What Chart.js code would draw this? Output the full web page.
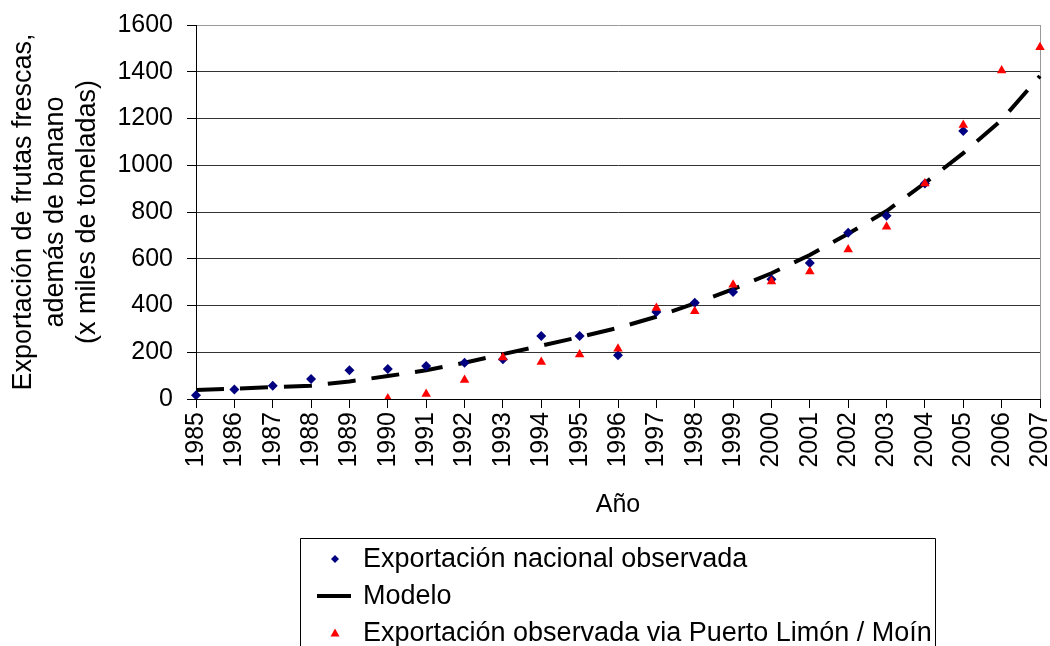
<!DOCTYPE html>
<html><head><meta charset="utf-8">
<script src="https://cdn.jsdelivr.net/npm/chart.js@4.4.1/dist/chart.umd.min.js"></script>
<style>html,body{margin:0;padding:0;background:#fff;overflow:hidden}canvas{display:block}</style>
</head><body>
<canvas id="c" width="1050" height="646"></canvas>
<script>
const years = ['1985','1986','1987','1988','1989','1990','1991','1992','1993','1994','1995','1996','1997','1998','1999','2000','2001','2002','2003','2004','2005','2006','2007'];
const nacional = [16,41,57,86,123,128,141,155,170,270,270,187,372,412,458,512,582,711,784,922,1147,null,null];
const modelo = [38,44,51,57,75,98,123,155,192,228,265,304,352,409,470,538,616,707,804,924,1052,1194,1382];
const limon = [null,null,null,null,null,2,21,81,178,158,190,215,389,375,489,503,545,640,737,922,1172,1405,1505];
const seriesNames = ['Exportación nacional observada','Modelo','Exportación observada via Puerto Limón / Moín'];
const yTitle = ['Exportación de frutas frescas,','además de banano','(x miles de toneladas)'];
const xTitle = 'Año';

const FONT = '"Liberation Sans", Arial, sans-serif';

const boxLegend = {
  id: 'boxLegend',
  afterDraw(chart) {
    const ctx = chart.ctx;
    const L = 300.5, T = 538.5, R = 935.5, B = chart.height + 2;
    ctx.save();
    ctx.strokeStyle = '#000'; ctx.lineWidth = 1;
    ctx.beginPath(); ctx.moveTo(L, B); ctx.lineTo(L, T); ctx.lineTo(R, T); ctx.lineTo(R, B); ctx.stroke();
    ctx.font = '27px ' + FONT; ctx.textBaseline = 'middle'; ctx.textAlign = 'left'; ctx.fillStyle = '#000';
    chart.data.datasets.forEach((ds, i) => {
      const y = 559 + i * 37;
      const mx = 335;
      if (ds.showLine === false) {
        ctx.fillStyle = ds.backgroundColor;
        ctx.beginPath();
        if (ds.pointStyle === 'rectRot') {
          const r = 4;
          ctx.moveTo(mx, y - r); ctx.lineTo(mx + r, y); ctx.lineTo(mx, y + r); ctx.lineTo(mx - r, y);
        } else {
          const r = 4.5;
          ctx.moveTo(mx, y - r); ctx.lineTo(mx + r, y + r * 0.8); ctx.lineTo(mx - r, y + r * 0.8);
        }
        ctx.closePath(); ctx.fill();
      } else {
        ctx.strokeStyle = ds.borderColor; ctx.lineWidth = 4;
        ctx.beginPath(); ctx.moveTo(317, y); ctx.lineTo(351, y); ctx.stroke();
      }
      ctx.fillStyle = '#000';
      ctx.fillText(ds.label, 363, y + 1);
    });
    ctx.restore();
  }
};

new Chart(document.getElementById('c'), {
  type: 'line',
  data: {
    labels: years,
    datasets: [
      { label: seriesNames[0], data: nacional, showLine: false, pointStyle: 'rectRot', pointRadius: 5, pointHoverRadius: 5,
        backgroundColor: '#000080', borderColor: '#000080', borderWidth: 0, order: 1 },
      { label: seriesNames[1], data: modelo, borderColor: '#000', borderWidth: 4, borderDash: [28, 16], pointRadius: 0,
        fill: false, tension: 0, order: 2, borderCapStyle: 'butt' },
      { label: seriesNames[2], data: limon, showLine: false, pointStyle: 'triangle', pointRadius: 5.5, pointHoverRadius: 5.5,
        backgroundColor: '#ff0000', borderColor: '#ff0000', borderWidth: 0, order: 0 }
    ]
  },
  options: {
    responsive: false,
    animation: false,
    events: [],
    layout: { padding: { left: 0, right: 10, top: 25, bottom: 124 } },
    plugins: { legend: { display: false }, tooltip: { enabled: false } },
    scales: {
      x: {
        offset: false,
        afterFit(s) { s.height = 123; s.paddingLeft = 0; s.paddingRight = 0; },
        border: { color: '#000', width: 1 },
        grid: {
          drawOnChartArea: true,
          color: (c) => c.index === years.length - 1 ? '#999' : 'rgba(0,0,0,0)',
          tickColor: '#000', tickLength: 9, drawTicks: true
        },
        ticks: { color: '#000', font: { family: FONT, size: 25 }, maxRotation: 90, minRotation: 90, autoSkip: false, padding: 4 },
        title: { display: true, text: xTitle, color: '#000', font: { family: FONT, size: 25 }, padding: { top: 4, bottom: 2 } }
      },
      y: {
        min: 0, max: 1600,
        afterFit(s) { s.width = 196; s.paddingTop = 0; s.paddingBottom = 0; },
        border: { color: '#000', width: 1 },
        grid: {
          color: (c) => c.tick && c.tick.value === 1600 ? '#999' : '#333',
          tickColor: '#000', tickLength: 9
        },
        ticks: { stepSize: 200, color: '#000', font: { family: FONT, size: 25 }, padding: 14,
          callback: (v) => String(v) },
        title: { display: true, text: yTitle, color: '#000', font: { family: FONT, size: 27, lineHeight: 1.2 }, padding: { top: 7, bottom: 4 } }
      }
    }
  },
  plugins: [boxLegend]
});
</script>
</body></html>
